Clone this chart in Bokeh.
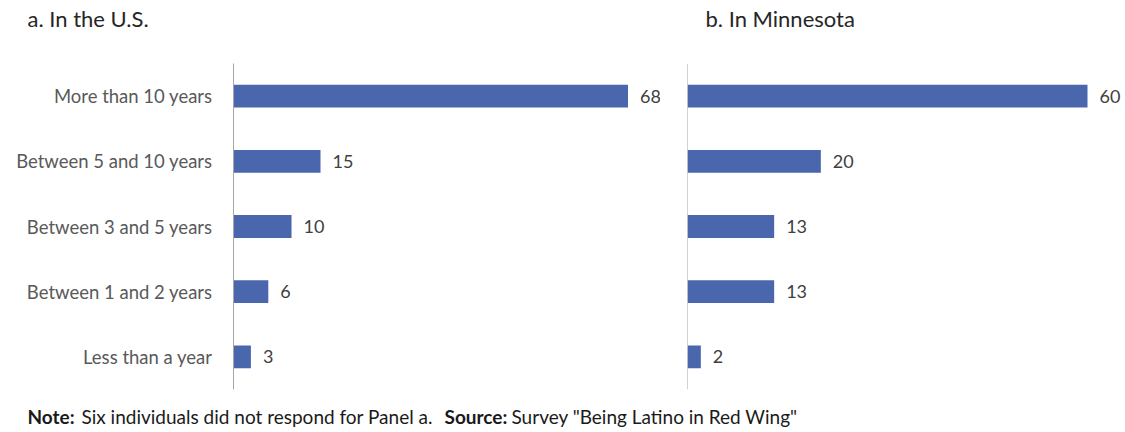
from bokeh.plotting import figure
from bokeh.layouts import column, row
from bokeh.models import ColumnDataSource, FactorRange, Range1d, Label, Span
from bokeh.core.properties import value
from bokeh.embed import file_html
from bokeh.resources import INLINE

# Time spent living in each place (% of respondents)
categories = ["Less than a year", "Between 1 and 2 years", "Between 3 and 5 years",
              "Between 5 and 10 years", "More than 10 years"]
us_values = [3, 6, 10, 15, 68]
mn_values = [2, 13, 13, 20, 60]

title_a = "a. In the U.S."
title_b = "b. In Minnesota"
note_parts = [("Note:", "bold"), ("Six individuals did not respond for Panel a.", "normal"),
              ("Source:", "bold"), ('Survey "Being Latino in Red Wing"', "normal")]

FONT = "Lato"
BAR = "#4a66ac"
AXIS = "#a6a6a6"
LABEL = "#595959"


def strip(height):
    s = figure(width=1125, height=height, x_range=Range1d(0, 1125), y_range=Range1d(0, height),
               output_backend="svg", toolbar_location=None, min_border=0,
               outline_line_color=None)
    s.axis.visible = False
    s.grid.visible = False
    return s


def panel(values, width, left, x_end, show_labels):
    src = ColumnDataSource(dict(cat=categories, val=values, txt=[str(v) for v in values]))
    p = figure(width=width, height=337, y_range=FactorRange(factors=categories, range_padding=0),
               x_range=Range1d(0, x_end), output_backend="svg", toolbar_location=None,
               min_border_left=left, min_border_right=0, min_border_top=0,
               min_border_bottom=11, outline_line_color=None)
    p.hbar(y="cat", right="val", height=0.35, source=src, color=BAR, line_color=None)
    p.text(x="val", y="cat", text="txt", source=src, x_offset=12, text_baseline="middle",
           text_font=value(FONT), text_font_size="18px", text_color="#404040")
    p.xaxis.visible = False
    p.xgrid.visible = False
    p.ygrid.visible = False
    ax = p.yaxis[0]
    if show_labels:
        ax.axis_line_color = AXIS
        ax.axis_line_width = 1
        ax.major_tick_line_color = None
        ax.minor_tick_line_color = None
        ax.major_label_standoff = 15
        ax.major_label_text_font = FONT
        ax.major_label_text_font_size = "18.5px"
        ax.major_label_text_color = LABEL
    else:
        ax.visible = False
        p.add_layout(Span(location=0, dimension="height", line_color=AXIS, line_width=1))
    return p


# panel titles
top = strip(63)
for txt, xpos in [(title_a, 27), (title_b, 705)]:
    top.add_layout(Label(x=xpos, y=45, text=txt, text_font=FONT, text_font_size="22px",
                         text_color="#262626", text_baseline="middle"))

fa = panel(us_values, 660, 233, 73.6, True)
fb = panel(mn_values, 465, 27, 65.7, False)

# footnote
fn = strip(32)
for (txt, style), xpos in zip(note_parts, [27, 81, 444, 511]):
    fn.add_layout(Label(x=xpos, y=16, text=txt, text_font=FONT, text_font_size="19px",
                        text_font_style=style, text_color="#1a1a1a", text_baseline="middle"))

layout = column(top, row(fa, fb, spacing=0), fn, spacing=0)
open("out.html", "w").write(file_html(layout, INLINE))
